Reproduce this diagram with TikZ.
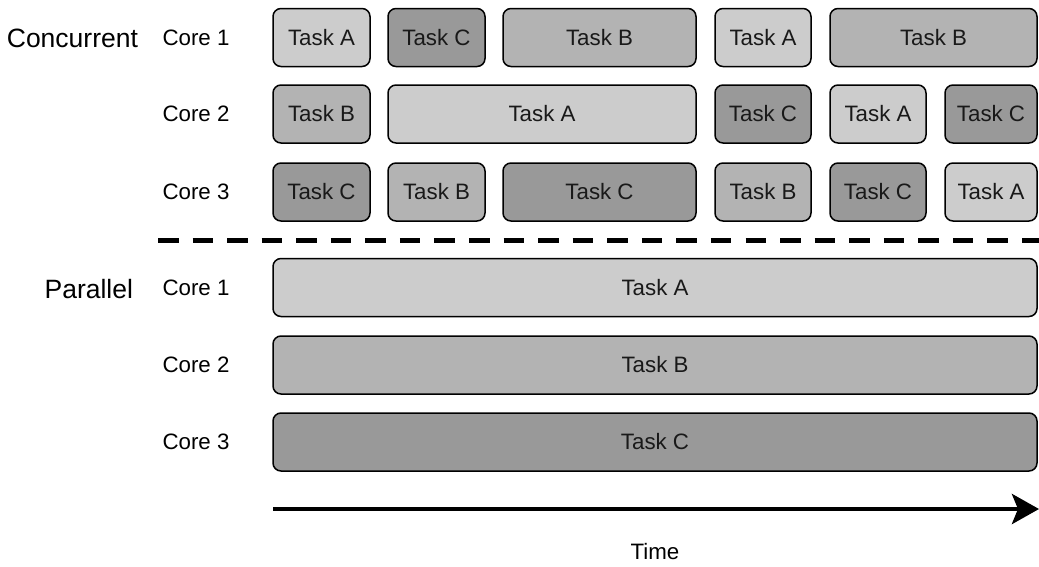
\documentclass[tikz,border=0pt]{standalone}
\usepackage{fontspec}
\setmainfont{Liberation Sans}
\usetikzlibrary{arrows.meta}
\definecolor{ca}{HTML}{CCCCCC}
\definecolor{cb}{HTML}{B3B3B3}
\definecolor{cc}{HTML}{999999}
\begin{document}
\begin{tikzpicture}[x=1pt,y=-1pt,
  taskbox/.style={draw=black, line width=1.5pt, rounded corners=8pt, minimum height=58pt, inner sep=0pt,
    font=\fontsize{22.3}{26}\selectfont, text=black!90},
  ta/.style={taskbox, fill=ca},
  tb/.style={taskbox, fill=cb},
  tc/.style={taskbox, fill=cc},
  corelbl/.style={font=\fontsize{22.3}{26}\selectfont, anchor=center},
  grplbl/.style={font=\fontsize{26.5}{31}\selectfont, anchor=east}]
\useasboundingbox (0,0) rectangle (1039,566);
% concurrent rows: x1/x2/style/label
\foreach \a/\b/\s/\t [count=\i] in {273/370/ta/A, 388/485/tc/C, 503/696/tb/B, 715/811/ta/A, 830/1037/tb/B}
  \node[\s, minimum width=\b-\a] (r1-\i) at ({(\a+\b)/2},37.5) {Task \t};
\foreach \a/\b/\s/\t [count=\i] in {273/370/tb/B, 388/696/ta/A, 715/811/tc/C, 830/926/ta/A, 945/1037/tc/C}
  \node[\s, minimum width=\b-\a] (r2-\i) at ({(\a+\b)/2},114) {Task \t};
\foreach \a/\b/\s/\t [count=\i] in {273/370/tc/C, 388/485/tb/B, 503/696/tc/C, 715/811/tb/B, 830/926/tc/C, 945/1037/ta/A}
  \node[\s, minimum width=\b-\a] (r3-\i) at ({(\a+\b)/2},192) {Task \t};
% parallel
\node[ta, minimum width=764] (p1) at (655,287.5) {Task A};
\node[tb, minimum width=764] (p2) at (655,365) {Task B};
\node[tc, minimum width=764] (p3) at (655,442) {Task C};
% labels
\node[grplbl] (lconc) at (141.5,38) {Concurrent};
\node[grplbl] (lpar) at (136.5,289) {Parallel};
\node[corelbl] (k1) at (196,37.5) {Core 1};
\node[corelbl] (k2) at (196,114) {Core 2};
\node[corelbl] (k3) at (196,192) {Core 3};
\node[corelbl] (q1) at (196,287.5) {Core 1};
\node[corelbl] (q2) at (196,365) {Core 2};
\node[corelbl] (q3) at (196,442) {Core 3};
% divider
\coordinate (ds) at (158,240);
\coordinate (de) at (1045,240);
\draw[line width=5pt, dash pattern=on 20.5pt off 14.06pt] (ds) -- (de);
% time axis
\coordinate (ts) at (273,509);
\coordinate (te) at (1039,509);
\draw[line width=4.5pt, -{Stealth[length=27pt, width=30pt, inset=6pt]}] (ts) -- (te);
\node[corelbl] (time) at (655,552) {Time};
\end{tikzpicture}
\end{document}
